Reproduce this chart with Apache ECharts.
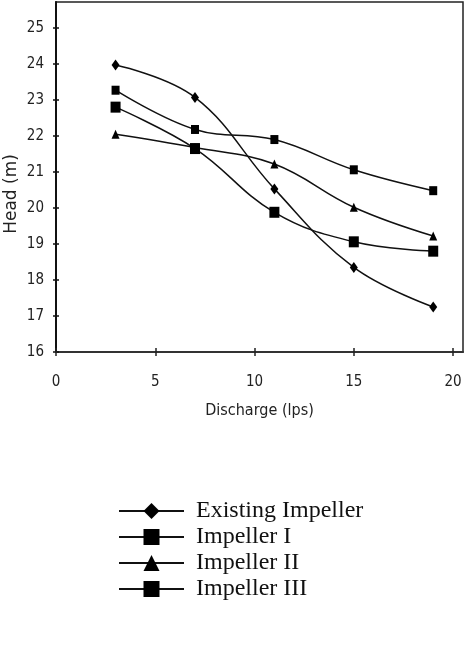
<!DOCTYPE html>
<html>
<head>
<meta charset="utf-8">
<script src="https://cdn.jsdelivr.net/npm/echarts@6/dist/echarts.min.js"></script>
<style>
  html, body { margin: 0; padding: 0; background: #fff; }
  #container { width: 471px; height: 645px; }
</style>
</head>
<body>
<div id="container"></div>
<script>
// data
const discharge = [3, 7, 11, 15, 19];
const existingImpeller = [23.97, 23.07, 20.53, 18.35, 17.25];
const impeller1 = [23.27, 22.18, 21.9, 21.06, 20.48];
const impeller2 = [22.05, 21.68, 21.22, 20.02, 19.22];
const impeller3 = [22.8, 21.65, 19.88, 19.06, 18.8];
const xTicks = [0, 5, 10, 15, 20];
const yTicks = [16, 17, 18, 19, 20, 21, 22, 23, 24, 25];

function pairs(ys) {
    return discharge.map((x, i) => [x, ys[i]]);
}

let dom = document.getElementById('container');
let myChart = echarts.init(dom, null, { renderer: 'canvas' });

const sansFont = '"DejaVu Sans Condensed", "Liberation Sans", Arial, sans-serif';

const tickFont = {
    fontFamily: sansFont,
    fontSize: 15,
    color: '#222'
};

function makeSeries(name, ys, symbol, size) {
    return {
        name: name,
        type: 'line',
        data: pairs(ys),
        smooth: 0.4,
        symbol: symbol,
        symbolSize: size,
        showAllSymbol: true,
        lineStyle: { color: '#111', width: 1.5 },
        itemStyle: { color: '#000' },
        emphasis: { disabled: true }
    };
}

const option = {
    animation: false,
    backgroundColor: '#fff',
    grid: {
        left: 56,
        top: 2,
        right: 8,
        bottom: 293,
        show: true,
        borderColor: '#222',
        borderWidth: 1.5,
        outerBoundsMode: 'none'
    },
    legend: {
        orient: 'vertical',
        left: 113,
        top: 494,
        itemWidth: 65,
        itemHeight: 20,
        itemGap: 2,
        textStyle: {
            fontFamily: 'Liberation Serif',
            fontSize: 24,
            color: '#111',
            padding: [0, 0, 0, 7]
        },
        data: ['Existing Impeller', 'Impeller I', 'Impeller II', 'Impeller III']
    },
    graphic: [{
        type: 'text',
        x: 12,
        y: 194,
        rotation: Math.PI / 2,
        style: {
            text: 'Head (m)',
            align: 'center',
            verticalAlign: 'middle',
            font: '17px "DejaVu Sans"',
            fill: '#222'
        }
    }],
    xAxis: [{
        type: 'value',
        min: 0,
        max: 20.5,
        interval: 5,
        name: 'Discharge (lps)',
        nameLocation: 'middle',
        nameGap: 51,
        nameTextStyle: { fontFamily: sansFont, fontSize: 16, color: '#222' },
        splitLine: { show: false },
        axisLine: { lineStyle: { color: '#333', width: 2 } },
        axisTick: { length: 4, customValues: xTicks, lineStyle: { color: '#222', width: 1.5 } },
        axisLabel: Object.assign({ margin: 23, customValues: xTicks }, tickFont)
    }, {
        type: 'value',
        position: 'bottom',
        min: 0,
        max: 20.5,
        interval: 5,
        splitLine: { show: false },
        axisLine: { show: false },
        axisTick: { inside: true, length: 4, customValues: xTicks, lineStyle: { color: '#222', width: 1.5 } },
        axisLabel: { show: false }
    }],
    yAxis: [{
        type: 'value',
        min: 16,
        max: 25.72,
        interval: 1,
        splitLine: { show: false },
        axisLine: { lineStyle: { color: '#111', width: 2 } },
        axisTick: { length: 3, customValues: yTicks, lineStyle: { color: '#111', width: 1.5 } },
        axisLabel: Object.assign({ margin: 12, customValues: yTicks }, tickFont)
    }, {
        type: 'value',
        position: 'left',
        min: 16,
        max: 25.72,
        interval: 1,
        splitLine: { show: false },
        axisLine: { show: false },
        axisTick: { inside: true, length: 3, customValues: yTicks, lineStyle: { color: '#111', width: 1.5 } },
        axisLabel: { show: false }
    }],
    series: [
        makeSeries('Existing Impeller', existingImpeller, 'diamond', [8, 11]),
        makeSeries('Impeller I', impeller1, 'rect', [8, 9]),
        makeSeries('Impeller II', impeller2, 'triangle', [8, 9]),
        makeSeries('Impeller III', impeller3, 'rect', [10, 11])
    ]
};

myChart.setOption(option);
</script>
</body>
</html>
